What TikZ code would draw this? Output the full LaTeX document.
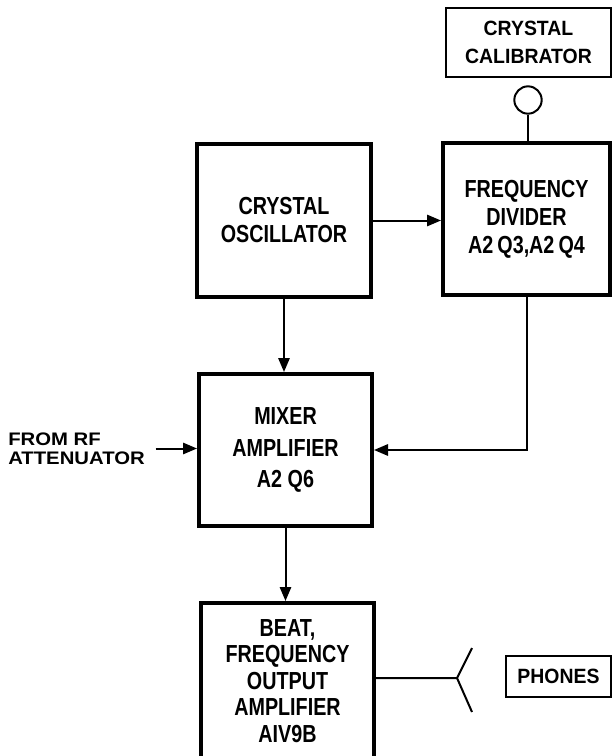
\documentclass[tikz,border=0pt]{standalone}
\usepackage{fontspec}
\usepackage{tikz}
\usetikzlibrary{arrows.meta}
\newfontfamily\boxfont{Liberation Sans}[FakeStretch=0.8]
\newfontfamily\tagfont{Liberation Sans}[FakeStretch=0.94]
\newfontfamily\widefont{Liberation Sans}[FakeStretch=1.12]

\begin{document}
\begin{tikzpicture}[
    x=0.75pt, y=-0.75pt,
    block/.style={draw, line width=3pt, align=center, inner sep=0pt, font=\boxfont\bfseries\fontsize{18.5}{21}\selectfont},
    tagbox/.style={draw, line width=1.5pt, align=center, inner sep=0pt, font=\tagfont\bfseries\fontsize{15.5}{21}\selectfont},
    sig/.style={line width=1.5pt, -{Triangle[length=10.5pt,width=8.5pt]}},
    wire/.style={line width=1.5pt}
]
\useasboundingbox (0,0) rectangle (613,756);

% Blocks
\node[block, minimum width=130.5pt, minimum height=114.75pt] (osc) at (284,220.5) {CRYSTAL\\OSCILLATOR};
\node[block, minimum width=125.25pt, minimum height=114pt] (div) at (526.5,219) {FREQUENCY\\DIVIDER\\A2\,Q3,A2\,Q4};
\node[block, minimum width=129.75pt, minimum height=114pt, font=\boxfont\bfseries\fontsize{18.5}{23.5}\selectfont] (mix) at (285.5,450) {MIXER\\AMPLIFIER\\A2 Q6};
\node[block, minimum width=129.75pt, minimum height=117pt, font=\boxfont\bfseries\fontsize{18.5}{19.8}\selectfont] (beat) at (287.5,681) {BEAT,\\FREQUENCY\\OUTPUT\\AMPLIFIER\\AIV9B};

% Calibrator and phones
\node[tagbox, minimum width=123.75pt, minimum height=51.75pt] (cal) at (528.5,42.5) {CRYSTAL\\CALIBRATOR};
\node[circle, draw, line width=1.5pt, inner sep=0pt, minimum size=20.5pt] (knob) at (528,100) {};
\node[tagbox, minimum width=78.75pt, minimum height=30.75pt] (phones) at (558.5,676.5) {PHONES};
\node[font=\widefont\bfseries\fontsize{13.6}{14.5}\selectfont, align=left, anchor=west, inner sep=0pt] (rf) at (8,448.5) {FROM RF\\ATTENUATOR};

\coordinate (jack) at (457,678);
\coordinate (jacktop) at (472,648);
\coordinate (jackbot) at (472,712);

% Connections
\draw[wire] (knob.south) -- (knob.south |- div.north);
\draw[sig] (osc.east) -- (osc.east -| div.west);
\draw[sig] (osc.south) -- (osc.south |- mix.north);
\draw[sig] (div.south) -- (div.south |- mix.east) -- (mix.east);
\draw[sig] ([xshift=8pt]rf.east) -- (rf.east -| mix.west);
\draw[sig] (mix.south) -- (mix.south |- beat.north);
\draw[wire] (beat.east |- jack) -- (jack) -- (jacktop) (jack) -- (jackbot);
\end{tikzpicture}
\end{document}
